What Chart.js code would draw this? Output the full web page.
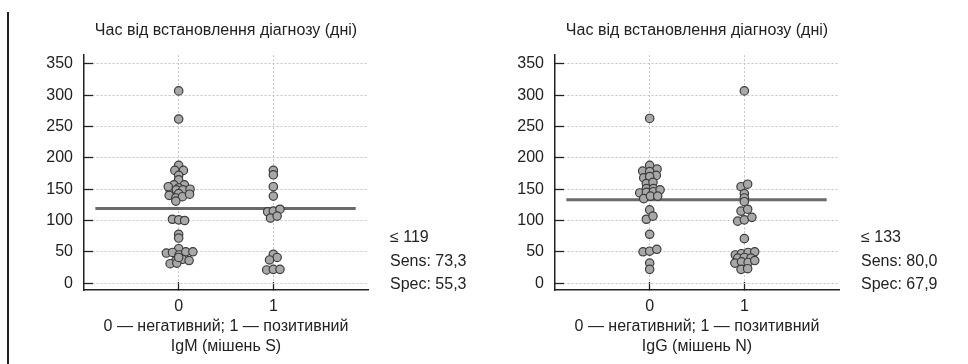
<!DOCTYPE html>
<html lang="uk">
<head>
<meta charset="UTF-8">
<title>Час від встановлення діагнозу</title>
<script src="https://cdn.jsdelivr.net/npm/chart.js@4.4.1/dist/chart.umd.min.js"></script>
<style>
  body { margin: 0; background: #fff; width: 968px; height: 364px; position: relative; overflow: hidden; }
  .edge { position: absolute; left: 7px; top: 12px; width: 2px; height: 352px; background: #222; }
  .box { position: absolute; top: 0; width: 484px; height: 364px; }
</style>
</head>
<body>
<div class="edge"></div>
<div class="box" style="left:0"><canvas id="igmChart" width="484" height="364"></canvas></div>
<div class="box" style="left:471px"><canvas id="iggChart" width="484" height="364"></canvas></div>

<script>
// y axis ticks and category ticks
const yTicks = [0, 50, 100, 150, 200, 250, 300, 350];
const xTicks = [0, 1];
const titleText = 'Час від встановлення діагнозу (дні)';

// IgM (target S): days, with horizontal spread of each dot (dot-plot jitter)
const igmNegDays   = [307, 262, 188, 180, 180, 172, 165, 157, 157, 152, 148, 149, 149, 150, 143, 140, 136, 138, 142, 131, 154,
                      102, 101, 100, 78, 72, 55, 48, 49, 45, 50, 50, 36, 38, 36, 31, 32, 41];
const igmNegJitter = [0, 0, 0, -0.04, 0.05, 0, 0, -0.05, 0.06, 0, -0.09, -0.025, 0.045, 0.12, 0, -0.1, -0.03, 0.04, 0.115, -0.03, -0.11,
                      -0.066, 0, 0.063, 0, 0, 0, -0.13, -0.065, 0.005, 0.075, 0.15, -0.03, 0.04, 0.11, -0.09, -0.02, 0];
const igmPosDays   = [180, 173, 154, 139, 114, 115, 118, 104, 107, 46, 41, 37, 21, 22, 22];
const igmPosJitter = [0, 0, 0, 0, -0.06, 0, 0.07, -0.03, 0.04, 0, 0.04, -0.04, -0.07, 0, 0.07];
const igmCutoff = 119;
const igmNotes = ['≤ 119', 'Sens: 73,3', 'Spec: 55,3'];
const igmAxisTitle = ['0 — негативний; 1 — позитивний', 'IgM (мішень S)'];

// IgG (target N)
const iggNegDays   = [263, 188, 179, 182, 178, 168, 172, 170, 159, 161, 151, 151, 144, 145, 146, 149, 135, 139, 139,
                      117, 102, 107, 78, 50, 51, 54, 32, 22];
const iggNegJitter = [0, 0, -0.074, 0.078, 0, -0.063, 0.07, 0, -0.035, 0.035, -0.035, 0.04, -0.105, -0.035, 0.04, 0.11, -0.063, 0.008, 0.085,
                      0, -0.035, 0.035, 0, -0.07, 0, 0.075, 0, 0];
const iggPosDays   = [307, 154, 158, 143, 136, 130, 115, 118, 99, 101, 105, 71,
                      45, 47, 49, 50, 40, 41, 40, 32, 34, 33, 36, 22, 23];
const iggPosJitter = [0, -0.035, 0.035, 0, 0, 0, -0.035, 0.035, -0.07, 0, 0.08, 0,
                      -0.095, -0.03, 0.04, 0.11, -0.07, 0, 0.07, -0.1, -0.03, 0.04, 0.11, -0.035, 0.035];
const iggCutoff = 133;
const iggNotes = ['≤ 133', 'Sens: 80,0', 'Spec: 67,9'];
const iggAxisTitle = ['0 — негативний; 1 — позитивний', 'IgG (мішень N)'];

const FONT = '"Liberation Sans", Arial, sans-serif';
const INK = '#222';

// draws the cut-off / Sens / Spec lines to the right of the plot
const sideNote = {
  id: 'sideNote',
  afterDraw(chart, args, opts) {
    const { ctx, chartArea } = chart;
    ctx.save();
    ctx.font = '16px ' + FONT;
    ctx.fillStyle = INK;
    ctx.textBaseline = 'middle';
    ctx.textAlign = 'left';
    opts.lines.forEach((t, i) => ctx.fillText(t, chartArea.right + 22, chartArea.bottom - 52 + i * 23.5));
    ctx.restore();
  }
};

function toPoints(cat, days, jitter) {
  return days.map((d, i) => ({ x: cat + jitter[i], y: d }));
}

function makeChart(id, negDays, negJitter, posDays, posJitter, cutoff, notes, axisTitle) {
  const ctx = document.getElementById(id).getContext('2d');
  return new Chart(ctx, {
    type: 'scatter',
    data: {
      datasets: [
        {
          type: 'line',
          data: [{ x: -0.88, y: cutoff }, { x: 1.87, y: cutoff }],
          borderColor: '#6a6a6a',
          borderWidth: 3,
          pointRadius: 0,
          order: 2
        },
        {
          data: toPoints(xTicks[0], negDays, negJitter).concat(toPoints(xTicks[1], posDays, posJitter)),
          backgroundColor: '#a8a8a8',
          borderColor: '#3c3c3c',
          borderWidth: 1.2,
          pointRadius: 4.2,
          order: 1
        }
      ]
    },
    options: {
      responsive: false,
      animation: false,
      layout: { padding: { left: 0, right: 116, top: 0, bottom: 0 } },
      plugins: {
        legend: { display: false },
        tooltip: { enabled: false },
        title: {
          display: true,
          text: titleText,
          fullSize: false,
          color: INK,
          font: { family: FONT, size: 16, weight: 'normal', lineHeight: 1.2 },
          padding: { top: 21, bottom: 15 }
        },
        sideNote: { lines: notes }
      },
      scales: {
        x: {
          type: 'linear',
          min: -1,
          max: 2,
          afterBuildTicks: s => { s.ticks = xTicks.map(v => ({ value: v })); },
          afterFit: s => { s.height = 74; },
          grid: { color: '#c4c4c4', borderDash: [2, 2], tickColor: INK, tickLength: -8, tickWidth: 1.3 },
          border: { color: INK, width: 1.5, dash: [2, 2] },
          ticks: { color: INK, padding: 15, font: { family: FONT, size: 16 } },
          title: {
            display: true,
            text: axisTitle,
            color: INK,
            font: { family: FONT, size: 16, lineHeight: 1.25 },
            padding: { top: 0, bottom: 7 }
          }
        },
        y: {
          min: -11,
          max: 364,
          afterBuildTicks: s => { s.ticks = yTicks.map(v => ({ value: v })); },
          afterFit: s => { s.width = 84; },
          grid: { color: '#c4c4c4', borderDash: [2, 2], tickColor: INK, tickLength: -9, tickWidth: 1.3 },
          border: { color: INK, width: 1.5, dash: [2, 2] },
          ticks: { color: INK, padding: 20, font: { family: FONT, size: 16 } }
        }
      }
    },
    plugins: [sideNote]
  });
}

makeChart('igmChart', igmNegDays, igmNegJitter, igmPosDays, igmPosJitter, igmCutoff, igmNotes, igmAxisTitle);
makeChart('iggChart', iggNegDays, iggNegJitter, iggPosDays, iggPosJitter, iggCutoff, iggNotes, iggAxisTitle);
</script>
</body>
</html>
